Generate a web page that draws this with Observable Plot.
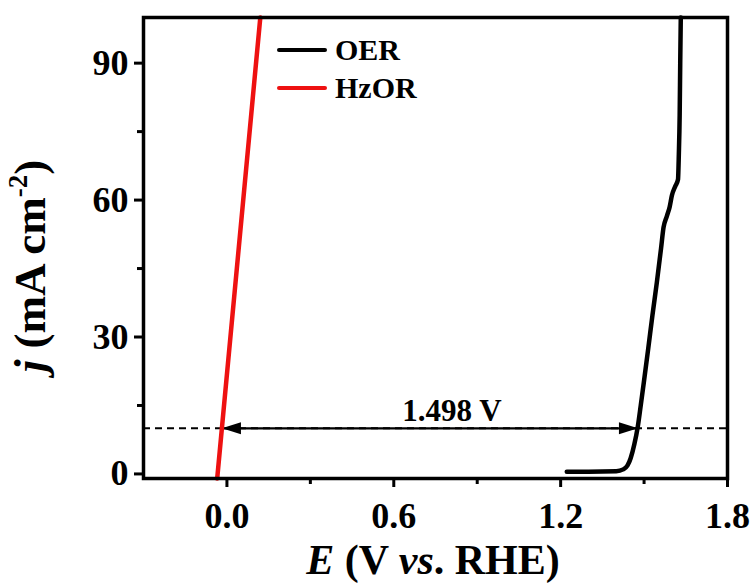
<!DOCTYPE html>
<html>
<head>
<meta charset="utf-8">
<script src="https://cdn.jsdelivr.net/npm/d3@7"></script>
<script src="https://cdn.jsdelivr.net/npm/@observablehq/plot@0.6"></script>
<style>
  html, body { margin: 0; padding: 0; background: #fff; }
  #wrap { position: relative; width: 753px; height: 585px; font-family: "Liberation Serif", "Times New Roman", serif; }
  .leg { position: absolute; display: flex; align-items: center; font-weight: bold; font-size: 30px; line-height: 30px; color: #000; }
  .leg .sw { width: 50px; height: 4.5px; border-radius: 2px; margin-right: 8px; }
</style>
</head>
<body>
<div id="wrap"></div>
<script>
// OER polarization curve (E vs RHE, V ; j, mA cm^-2)
const oerE = [1.222, 1.30, 1.40, 1.425, 1.44, 1.452, 1.465, 1.477, 1.488, 1.499, 1.515, 1.530, 1.546, 1.561, 1.570, 1.582, 1.592, 1.600, 1.612, 1.622, 1.625, 1.628, 1.630, 1.632];
const oerJ = [0.5, 0.5, 0.6, 1.0, 1.8, 3.5, 6.5, 10.2, 15, 20, 27.5, 34.7, 42, 49.4, 54, 56.5, 58.5, 61, 63, 64.5, 70, 78.6, 90, 100];
// HzOR polarization curve
const hzE = [-0.035, 0.12];
const hzJ = [-1, 100];
// Reference current density and potentials at 10 mA cm^-2
const refJ = 10;
const hzAt10 = -0.018;
const oerAt10 = 1.478;
const gapLabel = "1.498 V";
// Axes
const xTicks = [0.0, 0.6, 1.2, 1.8];
const xMinor = [0.3, 0.9, 1.5];
const yTicks = [0, 30, 60, 90];
const yMinor = [15, 45, 75];
const seriesNames = ["OER", "HzOR"];
const seriesColors = ["#000000", "#ee1111"];

const oer = oerE.map((e, i) => ({E: e, j: oerJ[i]}));
const hz = hzE.map((e, i) => ({E: e, j: hzJ[i]}));

const leftHead = {draw(ctx, size) { ctx.moveTo(0, 0); ctx.lineTo(19, -6); ctx.lineTo(19, 6); ctx.closePath(); }};
const rightHead = {draw(ctx, size) { ctx.moveTo(0, 0); ctx.lineTo(-19, -6); ctx.lineTo(-19, 6); ctx.closePath(); }};

const font = "Liberation Serif, Times New Roman, serif";

const chart = Plot.plot({
  width: 753,
  height: 585,
  marginLeft: 143,
  marginRight: 26,
  marginTop: 17,
  marginBottom: 107,
  style: {fontFamily: font, fontWeight: "bold", fontSize: "36px", color: "#000", background: "#fff"},
  x: {domain: [-0.3, 1.8]},
  y: {domain: [-1, 100]},
  marks: [
    Plot.ruleY([refJ], {stroke: "#000", strokeWidth: 2, strokeDasharray: "7,5"}),
    Plot.link([{x1: hzAt10, x2: oerAt10, y: refJ}], {x1: "x1", x2: "x2", y1: "y", y2: "y", stroke: "#000", strokeWidth: 2.2}),
    Plot.dot([{x: hzAt10, y: refJ}], {x: "x", y: "y", symbol: leftHead, fill: "#000", stroke: null, r: 1}),
    Plot.dot([{x: oerAt10, y: refJ}], {x: "x", y: "y", symbol: rightHead, fill: "#000", stroke: null, r: 1}),
    Plot.text([{x: (hzAt10 + oerAt10) / 2, y: refJ, t: gapLabel}], {x: "x", y: "y", text: "t", dx: 22, dy: -7, lineAnchor: "bottom", fontSize: 31, fontWeight: "bold", fill: "#000"}),
    Plot.line(hz, {x: "E", y: "j", stroke: seriesColors[1], strokeWidth: 4.5}),
    Plot.line(oer, {x: "E", y: "j", stroke: seriesColors[0], strokeWidth: 4.5, curve: "monotone-x"}),
    Plot.axisX({ticks: xTicks, tickSize: 9, tickPadding: 15, tickFormat: d3.format(".1f"), strokeWidth: 3, label: null, fontSize: 36}),
    Plot.axisX({ticks: xMinor, tickSize: 6, text: null, strokeWidth: 3, label: null}),
    Plot.axisY({ticks: yTicks, tickSize: 9, tickPadding: 6, strokeWidth: 3, label: null, fontSize: 36}),
    Plot.axisY({ticks: yMinor, tickSize: 6, text: null, strokeWidth: 3, label: null}),
    Plot.frame({stroke: "#000", strokeWidth: 3.5})
  ]
});

const wrap = document.getElementById("wrap");
wrap.appendChild(chart);

const svg = d3.select(chart);
// x-axis title
const xt = svg.append("text")
  .attr("x", 433).attr("y", 574)
  .attr("text-anchor", "middle")
  .attr("font-family", font).attr("font-weight", "bold").attr("font-size", 42).attr("fill", "#000");
xt.append("tspan").attr("font-style", "italic").text("E");
xt.append("tspan").text(" (V ");
xt.append("tspan").attr("font-style", "italic").text("vs");
xt.append("tspan").text(". RHE)");
// y-axis title
const yt = svg.append("text")
  .attr("transform", "translate(45,266) rotate(-90)")
  .attr("text-anchor", "middle")
  .attr("font-family", font).attr("font-weight", "bold").attr("font-size", 45).attr("fill", "#000");
yt.append("tspan").attr("font-style", "italic").text("j");
yt.append("tspan").text(" (mA cm");
yt.append("tspan").attr("font-size", 27).attr("dy", -18).text("-2");
yt.append("tspan").attr("dy", 18).text(")");

// legend
const legPos = [{top: 35, left: 277}, {top: 73, left: 277}];
seriesNames.forEach((name, i) => {
  const d = document.createElement("div");
  d.className = "leg";
  d.style.top = legPos[i].top + "px";
  d.style.left = legPos[i].left + "px";
  d.innerHTML = `<span class="sw" style="background:${seriesColors[i]}"></span><span>${name}</span>`;
  wrap.appendChild(d);
});
</script>
</body>
</html>
